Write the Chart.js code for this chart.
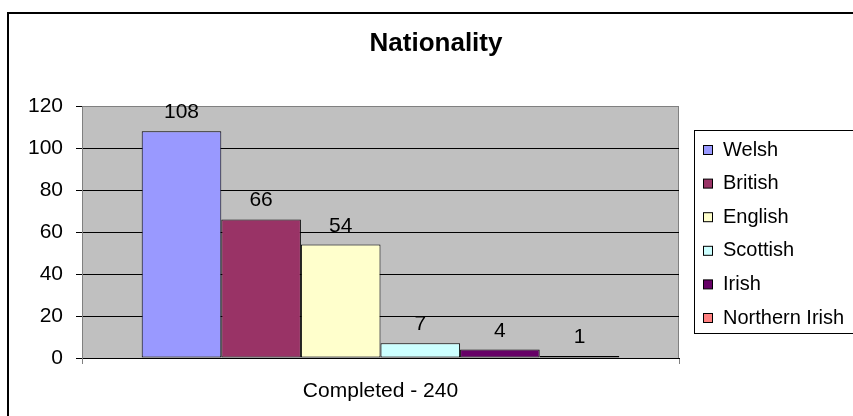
<!DOCTYPE html>
<html>
<head>
<meta charset="utf-8">
<script src="https://cdn.jsdelivr.net/npm/chart.js@4"></script>
<style>
  html, body { margin: 0; padding: 0; background: #fff; overflow: hidden; }
  canvas { display: block; }
</style>
</head>
<body>
<canvas id="myChart" width="853" height="416"></canvas>
<script>
// データ
const chartTitle = 'Nationality';
const categories = ['Completed - 240'];
const seriesNames = ['Welsh', 'British', 'English', 'Scottish', 'Irish', 'Northern Irish'];
const seriesValues = [108, 66, 54, 7, 4, 1];
const seriesColors = ['#9999FF', '#993366', '#FFFFCC', '#CCFFFF', '#660066', '#FF8080'];
const yTicks = [0, 20, 40, 60, 80, 100, 120];

Chart.defaults.font.family = '"Liberation Sans", Arial, sans-serif';
Chart.defaults.font.size = 21;
Chart.defaults.color = '#000';

// 枠・背景・タイトル・凡例・値ラベルを描くプラグイン
const excelLook = {
    id: 'excelLook',
    beforeDraw(chart) {
        const {ctx, chartArea: a} = chart;
        ctx.save();
        ctx.fillStyle = '#fff';
        ctx.fillRect(0, 0, chart.width, chart.height);
        // 外枠
        ctx.strokeStyle = '#000';
        ctx.lineWidth = 2;
        ctx.strokeRect(8, 13, 900, 500);
        // プロットエリア
        ctx.fillStyle = '#C0C0C0';
        ctx.fillRect(a.left, a.top, a.right - a.left, a.bottom - a.top);
        ctx.strokeStyle = '#808080';
        ctx.lineWidth = 1;
        ctx.strokeRect(a.left + 0.5, a.top + 0.5, a.right - a.left - 1, a.bottom - a.top);
        ctx.restore();
    },
    afterDatasetsDraw(chart) {
        const {ctx} = chart;
        ctx.save();
        ctx.font = '21px "Liberation Sans", Arial, sans-serif';
        ctx.fillStyle = '#000';
        ctx.textAlign = 'center';
        ctx.textBaseline = 'alphabetic';
        chart.data.datasets.forEach((ds, i) => {
            chart.getDatasetMeta(i).data.forEach((bar, j) => {
                ctx.fillText(String(ds.data[j]), bar.x, bar.y - 13);
            });
        });
        ctx.restore();
    },
    afterDraw(chart) {
        const {ctx} = chart;
        ctx.save();
        // タイトル
        ctx.font = 'bold 26px "Liberation Sans", Arial, sans-serif';
        ctx.fillStyle = '#000';
        ctx.textAlign = 'center';
        ctx.textBaseline = 'alphabetic';
        ctx.fillText(chartTitle, 436, 51);
        // 凡例
        ctx.strokeStyle = '#000';
        ctx.lineWidth = 1;
        ctx.strokeRect(694.5, 130.5, 200, 203);
        ctx.font = '20px "Liberation Sans", Arial, sans-serif';
        ctx.textAlign = 'left';
        ctx.textBaseline = 'middle';
        chart.data.datasets.forEach((ds, i) => {
            const y = 150 + i * 33.6;
            ctx.fillStyle = ds.backgroundColor;
            ctx.fillRect(703.5, y - 4.5, 9, 9);
            ctx.strokeStyle = '#000';
            ctx.strokeRect(703.5, y - 4.5, 9, 9);
            ctx.fillStyle = '#000';
            ctx.fillText(ds.label, 723, y);
        });
        ctx.restore();
    }
};

const ctx = document.getElementById('myChart').getContext('2d');
const myChart = new Chart(ctx, {
    type: 'bar',
    data: {
        labels: categories,
        datasets: seriesNames.map((name, i) => ({
            label: name,
            data: [seriesValues[i]],
            backgroundColor: seriesColors[i],
            borderColor: '#000',
            borderWidth: 1,
            borderSkipped: false,
            categoryPercentage: 0.8,
            barPercentage: 1
        }))
    },
    options: {
        responsive: false,
        animation: false,
        layout: {
            padding: { left: 0, right: 174, top: 106, bottom: 0 }
        },
        plugins: {
            legend: { display: false },
            tooltip: { enabled: false },
            title: { display: false }
        },
        scales: {
            x: {
                grid: {
                    drawOnChartArea: false,
                    drawTicks: true,
                    tickLength: 6,
                    color: '#808080'
                },
                border: { color: '#000' },
                ticks: { padding: 15, maxRotation: 0 },
                afterFit(scale) { scale.height = 58; }
            },
            y: {
                min: 0,
                max: 120,
                afterBuildTicks(scale) { scale.ticks = yTicks.map(v => ({ value: v })); },
                grid: {
                    color: c => (c.tick && c.tick.value === 120) ? '#808080' : '#000',
                    tickColor: '#000',
                    tickLength: 6
                },
                border: { color: '#808080' },
                ticks: { padding: 13 },
                afterFit(scale) { scale.width = 82; }
            }
        }
    },
    plugins: [excelLook]
});
</script>
</body>
</html>
